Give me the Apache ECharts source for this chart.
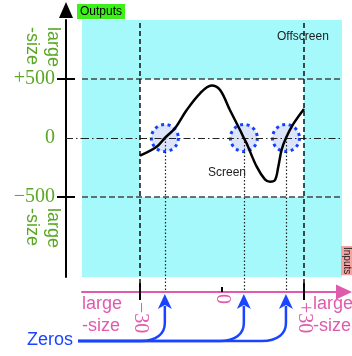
<!DOCTYPE html>
<html>
<head>
<meta charset="utf-8">
<script src="https://cdn.jsdelivr.net/npm/echarts@6/dist/echarts.min.js"></script>
<style>
  html, body { margin: 0; padding: 0; background: #fff; }
  #chart { width: 352px; height: 356px; }
</style>
</head>
<body>
<div id="chart"></div>
<script>
// A function seen through a "screen" window (-30..30, -500..500) inside a larger
// offscreen region; its zeros are circled and pointed out below the input axis.
const curveX = [-30, -23.9, -20.9, -17.2, -12.9, -8.0, -3.8, -0.7, 2.9, 6.6, 8.0, 9.0, 12.7, 15.7, 17.6, 19.4, 20.6, 21.8, 23.4, 26.1, 30];
const curveY = [-150, -74, 0, 82, 237, 379, 445, 407, 237, 68, 0, -45, -243, -350, -370, -356, -243, -102, 0, 119, 246];
const zeros = [-20.9, 8.0, 23.4];
const screenX = [-30, 30];
const screenY = [-500, 500];
const xTicks = [-30, 0, 30];
const xTickLabels = ['−30', '0', '+30'];
const yTicks = [-500, 0, 500];
const yTickLabels = ['−500', '0', '+500'];

// extent of the whole (offscreen) input/output region
const X_MIN = -51.2, X_MAX = 43.9;
const Y_MAX = 1000, Y_MIN = -1178, Y_MIN_AXIS = -1305;

const PINK = '#e05aae';
const GREEN = '#5aa724';
const BLUE = '#1a44ff';
const SANS = 'Liberation Sans';
const SERIF = 'Liberation Serif';

const chart = echarts.init(document.getElementById('chart'), null, { renderer: 'canvas' });

const hiddenX = (gridIndex) => ({
  type: 'value', gridIndex, min: X_MIN, max: X_MAX, position: 'bottom',
  axisLine: { show: false, onZero: false }, axisTick: { show: false },
  axisLabel: { show: false }, splitLine: { show: false }
});
const yBase = (gridIndex, min) => ({
  type: 'value', gridIndex, min, max: Y_MAX, position: 'left', offset: 16,
  axisLine: { show: false, onZero: false }, axisTick: { show: false },
  axisLabel: { show: false }, splitLine: { show: false }
});

const option = {
  animation: false,
  grid: [
    { left: 82, right: 10, top: 20, bottom: 79, show: true, backgroundColor: '#a5f9fb', borderWidth: 0 },
    { left: 82, right: 10, top: 20, bottom: 64, show: false }
  ],
  xAxis: [
    hiddenX(0),
    // input axis with arrow, labels and the short tick at 0
    Object.assign(hiddenX(1), {
      axisLine: {
        show: true, onZero: false,
        symbol: ['none', 'triangle'], symbolSize: [15, 16], symbolOffset: [0, 2],
        lineStyle: { color: PINK, width: 2 }
      },
      axisTick: { show: true, inside: true, length: 5, customValues: [0], lineStyle: { color: '#000', width: 2 } },
      axisLabel: {
        show: true, customValues: xTicks, rotate: -90, margin: 2,
        formatter: (v) => {
          const t = xTickLabels[xTicks.indexOf(v)];
          return v === 0 ? '{z|' + t + '}' : '{n|' + t + '}';
        },
        rich: {
          z: { color: PINK, fontFamily: SERIF, fontSize: 20 },
          n: { color: PINK, fontFamily: SERIF, fontSize: 20, padding: [0, 0, 0, 8] }
        }
      }
    }),
    // bracket ticks at the screen edges
    Object.assign(hiddenX(1), {
      axisTick: { show: true, inside: true, length: 9, customValues: [-30, 30], lineStyle: { color: '#000', width: 2 } }
    }),
    Object.assign(hiddenX(1), {
      axisTick: { show: true, inside: false, length: 8, customValues: [-30, 30], lineStyle: { color: '#000', width: 2 } }
    })
  ],
  yAxis: [
    // output axis with arrow and labels
    Object.assign(yBase(0, Y_MIN), {
      axisLine: {
        show: true, onZero: false,
        symbol: ['none', 'triangle'], symbolSize: [14, 16], symbolOffset: [0, 10],
        lineStyle: { color: '#000', width: 2 }
      },
      axisTick: { show: true, length: 9, customValues: [-500, 500], lineStyle: { color: '#000', width: 2 } },
      axisLabel: {
        show: true, customValues: yTicks, margin: 11,
        formatter: (v) => yTickLabels[yTicks.indexOf(v)],
        color: GREEN, fontFamily: SERIF, fontSize: 20
      }
    }),
    Object.assign(yBase(0, Y_MIN), {
      axisTick: { show: true, inside: true, length: 9, customValues: [-500, 500], lineStyle: { color: '#000', width: 2 } }
    }),
    Object.assign(yBase(0, Y_MIN), {
      axisTick: { show: true, inside: true, length: 16, customValues: [0], lineStyle: { color: '#222', width: 1.2, type: [7, 3, 1.5, 3] } }
    }),
    yBase(1, Y_MIN_AXIS)
  ],
  graphic: [
    { type: 'text', x: 77, y: 4, style: { text: 'Outputs', fill: '#000', font: '12px ' + SANS, backgroundColor: '#3cf01a', padding: [2, 3, 1, 3] }, z: 20 },
    { type: 'text', x: 353, y: 246, rotation: -Math.PI / 2, style: { text: 'Inputs', fill: '#222', font: '10px ' + SANS, backgroundColor: '#f5a3a3', padding: [1, 1, 1, 1] }, z: 20 },
    { type: 'text', x: 82, y: 293, style: { text: 'large\n-size', fill: PINK, font: '18px ' + SANS, lineHeight: 22 }, z: 20 },
    { type: 'text', x: 313, y: 293, style: { text: 'large\n-size', fill: PINK, font: '18px ' + SANS, lineHeight: 22 }, z: 20 },
    { type: 'text', x: 63, y: 27, rotation: -Math.PI / 2, style: { text: 'large\n-size', fill: GREEN, font: '18px ' + SANS, lineHeight: 21 }, z: 20 },
    { type: 'text', x: 63, y: 208, rotation: -Math.PI / 2, style: { text: 'large\n-size', fill: GREEN, font: '18px ' + SANS, lineHeight: 21 }, z: 20 },
    { type: 'text', x: 277, y: 31, style: { text: 'Offscreen', fill: '#222', font: '12px ' + SANS }, z: 20 },
    { type: 'text', x: 208, y: 167, style: { text: 'Screen', fill: '#222', font: '12px ' + SANS }, z: 20 },
    { type: 'text', x: 27, y: 331, style: { text: 'Zeros', fill: BLUE, font: '18px ' + SANS }, z: 20 }
  ],
  series: [
    // the on-screen window
    {
      type: 'line', xAxisIndex: 0, yAxisIndex: 0, data: [], z: 1, silent: true,
      markArea: {
        silent: true, itemStyle: { color: '#ffffff' },
        data: [[{ coord: [screenX[0], screenY[0]] }, { coord: [screenX[1], screenY[1]] }]]
      }
    },
    // drop lines from each zero to the input axis
    {
      type: 'line', xAxisIndex: 1, yAxisIndex: 3, data: [], z: 2, silent: true,
      markLine: {
        silent: true, symbol: 'none', label: { show: false },
        lineStyle: { color: '#222', width: 1.2, type: [1.5, 2] },
        data: zeros.map((z) => [{ coord: [z, 0] }, { coord: [z, Y_MIN_AXIS] }])
      }
    },
    // circled zeros
    {
      type: 'scatter', xAxisIndex: 0, yAxisIndex: 0, z: 3, silent: true,
      symbol: 'circle', symbolSize: 27,
      itemStyle: { color: '#dce4fb', borderColor: '#1240ff', borderWidth: 3, borderType: [3, 3.6], opacity: 1 },
      data: zeros.map((z) => [z, 0])
    },
    // horizontal reference lines
    {
      type: 'line', xAxisIndex: 0, yAxisIndex: 0, data: [], z: 4, silent: true,
      markLine: {
        silent: true, symbol: 'none', label: { show: false },
        data: [
          { yAxis: screenY[1], lineStyle: { color: '#444', width: 1.5, type: [6, 3] } },
          { yAxis: screenY[0], lineStyle: { color: '#444', width: 1.5, type: [6, 3] } },
          { yAxis: 0, lineStyle: { color: '#222', width: 1.2, type: [7, 3, 1.5, 3] } }
        ]
      }
    },
    // vertical screen edges
    {
      type: 'line', xAxisIndex: 1, yAxisIndex: 3, data: [], z: 4, silent: true,
      markLine: {
        silent: true, symbol: 'none', label: { show: false },
        lineStyle: { color: '#111', width: 1.5, type: [5, 3] },
        data: [{ xAxis: screenX[0] }, { xAxis: screenX[1] }]
      }
    },
    // the function
    {
      type: 'line', xAxisIndex: 0, yAxisIndex: 0, z: 5, silent: true,
      smooth: 0.35, showSymbol: false,
      lineStyle: { color: '#000', width: 2.5 },
      data: curveX.map((x, i) => [x, curveY[i]])
    },
    // "Zeros" callout arrows, one per zero
    {
      type: 'custom', xAxisIndex: 1, yAxisIndex: 3, z: 6, silent: true,
      data: zeros.map((z) => [z, Y_MIN_AXIS]),
      renderItem: (params, api) => {
        const p = api.coord([api.value(0), api.value(1)]);
        const left = api.coord([X_MIN, api.value(1)])[0];
        const x = p[0];
        const tip = p[1] + 2;
        const base = tip + 15;
        const lineY = p[1] + 49;
        const rx = 24, ry = 18;
        const sx = left - 4;
        return {
          type: 'group',
          children: [
            {
              type: 'path',
              shape: {
                pathData: 'M' + sx + ' ' + lineY + ' L' + (x - rx) + ' ' + lineY +
                  ' C' + (x - rx * 0.35) + ' ' + lineY + ' ' + x + ' ' + (lineY - ry * 0.4) + ' ' + x + ' ' + (lineY - ry) +
                  ' L' + x + ' ' + (base - 3)
              },
              style: { fill: 'none', stroke: BLUE, lineWidth: 2.5 }
            },
            {
              type: 'polygon',
              shape: { points: [[x, tip], [x + 7, base], [x, base - 4], [x - 7, base]] },
              style: { fill: BLUE }
            }
          ]
        };
      }
    }
  ]
};

chart.setOption(option);
</script>
</body>
</html>
